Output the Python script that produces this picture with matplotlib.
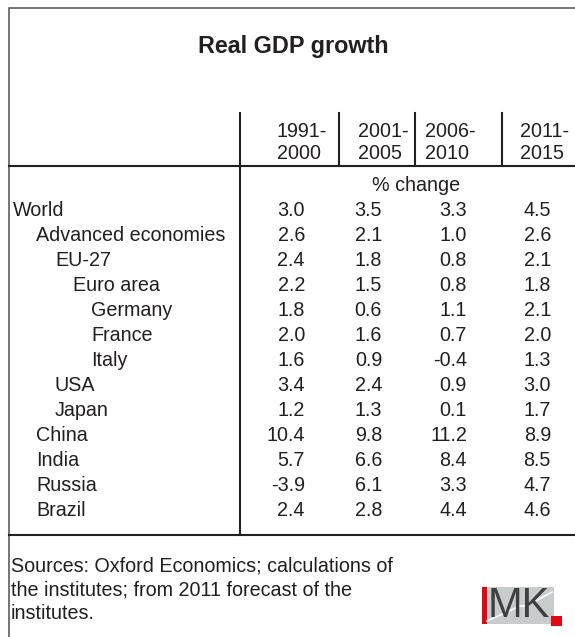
import matplotlib.pyplot as plt
from matplotlib.patches import Rectangle

# table content
periods = ['1991-\n2000', '2001-\n2005', '2006-\n2010', '2011-\n2015']
regions = ['World', 'Advanced economies', 'EU-27', 'Euro area', 'Germany', 'France',
           'Italy', 'USA', 'Japan', 'China', 'India', 'Russia', 'Brazil']
indent = [0, 1, 2, 3, 4, 4, 4, 2, 2, 1, 1, 1, 1]
g_1991_2000 = [3.0, 2.6, 2.4, 2.2, 1.8, 2.0, 1.6, 3.4, 1.2, 10.4, 5.7, -3.9, 2.4]
g_2001_2005 = [3.5, 2.1, 1.8, 1.5, 0.6, 1.6, 0.9, 2.4, 1.3, 9.8, 6.6, 6.1, 2.8]
g_2006_2010 = [3.3, 1.0, 0.8, 0.8, 1.1, 0.7, -0.4, 0.9, 0.1, 11.2, 8.4, 3.3, 4.4]
g_2011_2015 = [4.5, 2.6, 2.1, 1.8, 2.1, 2.0, 1.3, 3.0, 1.7, 8.9, 8.5, 4.7, 4.6]
columns = [g_1991_2000, g_2001_2005, g_2006_2010, g_2011_2015]

title = 'Real GDP growth'
unit = '% change'
source = ('Sources: Oxford Economics; calculations of\n'
          'the institutes; from 2011 forecast of the\n'
          'institutes.')

plt.rcParams.update({
    'font.family': 'Liberation Sans',
    'font.size': 14.2,
})

W, H = 575, 637
fig = plt.figure(figsize=(W / 100, H / 100), dpi=100)
ax = fig.add_axes([0, 0, 1, 1])
ax.set_xlim(0, W)
ax.set_ylim(H, 0)
ax.axis('off')

ink = '#231f20'
lw = 1.5

# outer frame (left + top visible)
ax.plot([9, 9, W], [H, 8, 8], color='#505050', lw=1.1, solid_joinstyle='miter')

# rules
ax.plot([9, W], [166, 166], color=ink, lw=lw)
ax.plot([9, W], [535, 535], color=ink, lw=lw)
ax.plot([240, 240], [113, 535], color=ink, lw=lw)
for xv in [339, 415, 502]:
    ax.plot([xv, xv], [113, 166], color=ink, lw=lw)

ax.text(293, 53, title, ha='center', va='baseline', fontsize=16.8,
        fontweight='bold', color=ink)

# header: two lines, left aligned in each column
head_left = [277, 358, 425, 520]
for xh, lab in zip(head_left, periods):
    for k, part in enumerate(lab.split('\n')):
        ax.text(xh, 137 + k * 22, part, ha='left', va='baseline', color=ink)

ax.text(416, 191, unit, ha='center', va='baseline', color=ink)

# body
num_right = [305, 382, 467, 551]
indent_x = [13, 36, 55, 73, 91]
row0, step = 216, 25.0
for i, name in enumerate(regions):
    y = row0 + i * step
    ax.text(indent_x[indent[i]], y, name, ha='left', va='baseline', color=ink)
    for xr, col in zip(num_right, columns):
        ax.text(xr, y, f'{col[i]:.1f}', ha='right', va='baseline', color=ink)

for k, line in enumerate(source.split('\n')):
    ax.text(11, 571 + k * 24, line, ha='left', va='baseline', color=ink)

# IMK logo
ax.add_patch(Rectangle((482, 587), 72, 37, facecolor='#c9cccd', edgecolor='none'))
ax.add_patch(Rectangle((482, 587), 4.5, 37, facecolor='#e30613', edgecolor='none'))
ax.plot([487, 520, 526, 552], [621, 606, 606, 592], color='white', lw=1.2)
ax.text(519, 606, 'MK', ha='center', va='center', fontsize=30, color='#3d4043')
ax.add_patch(Rectangle((551, 616), 11, 10, facecolor='#e30613', edgecolor='none'))

fig.savefig('out.png', dpi=100)
